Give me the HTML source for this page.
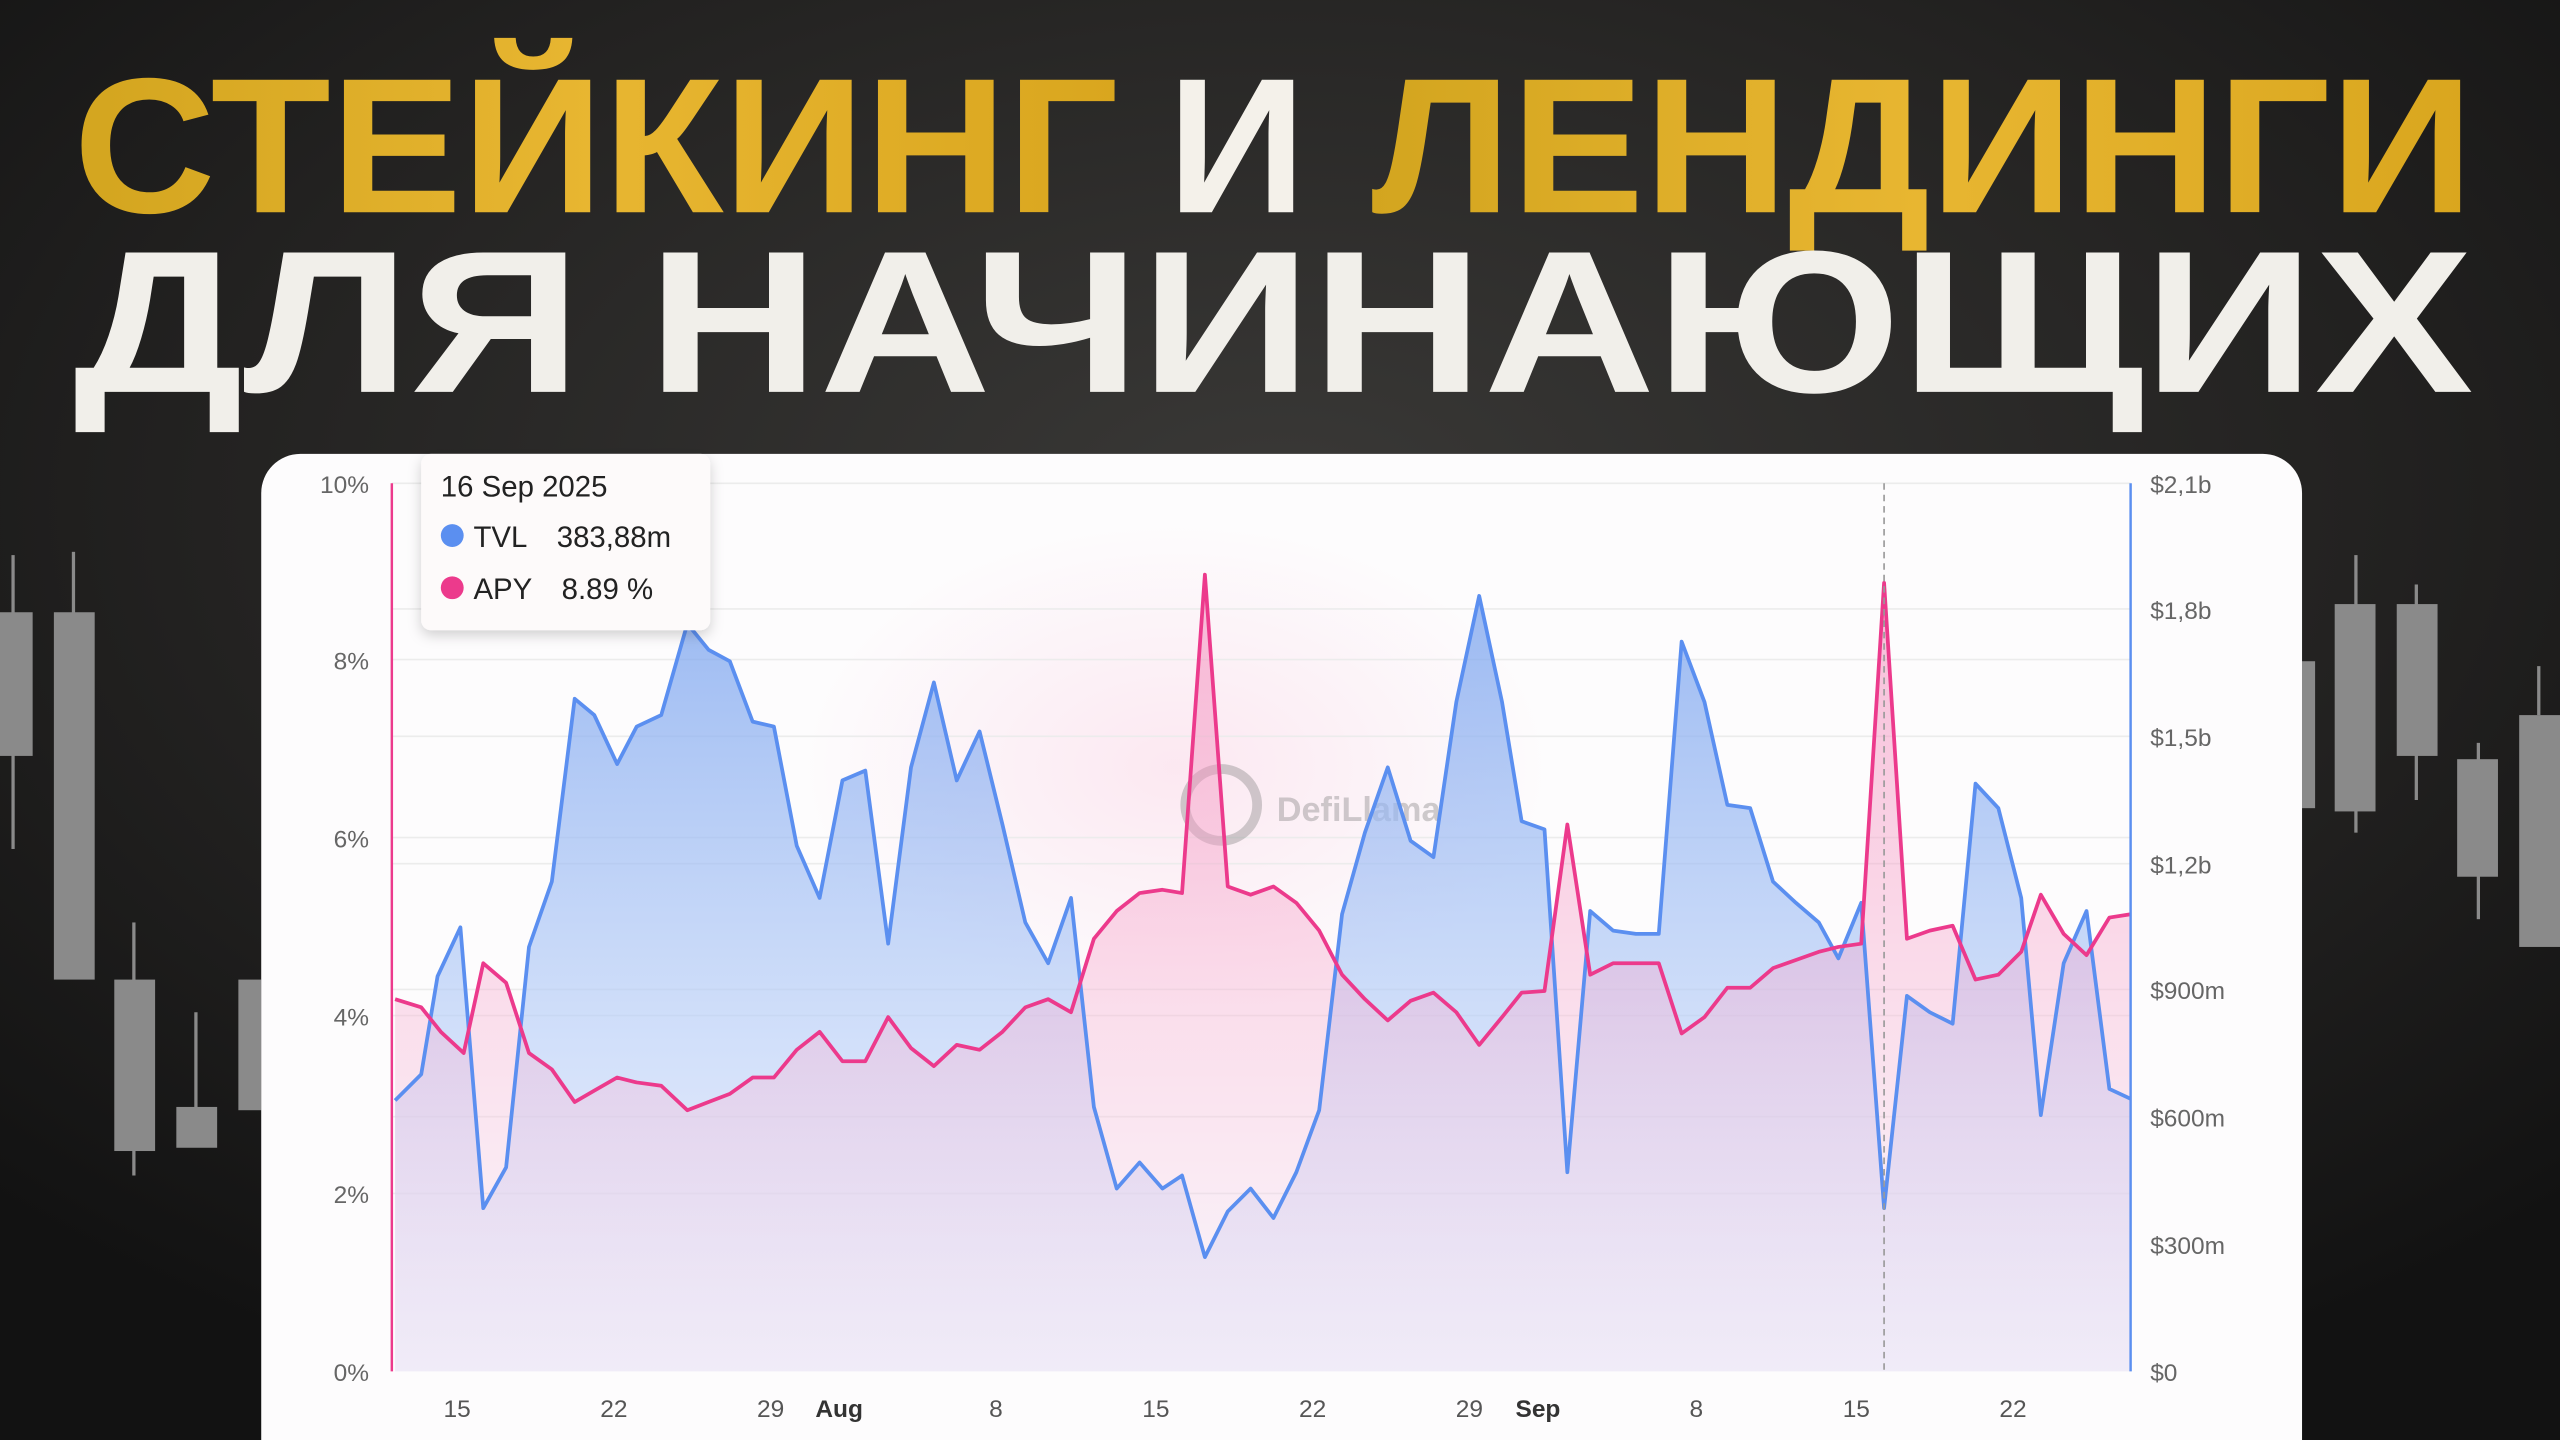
<!DOCTYPE html>
<html><head><meta charset="utf-8"><style>
html,body{margin:0;padding:0;background:#1a1a1a;}
svg{display:block;}
</style></head><body>
<svg width="2560" height="1440" viewBox="0 0 1568 882" xmlns="http://www.w3.org/2000/svg">
<defs>
<radialGradient id="bg" cx="0.5" cy="0.35" r="0.7">
<stop offset="0" stop-color="#3a3937"/><stop offset="0.6" stop-color="#232221"/><stop offset="1" stop-color="#121212"/>
</radialGradient>
<linearGradient id="gold" x1="0" y1="0" x2="1" y2="0">
<stop offset="0" stop-color="#d3a51f"/><stop offset="0.5" stop-color="#e8b631"/><stop offset="1" stop-color="#d9a61e"/>
</linearGradient>
<linearGradient id="blueF" x1="0" y1="0" x2="0" y2="1">
<stop offset="0" stop-color="#7aa3ee" stop-opacity="0.75"/><stop offset="0.6" stop-color="#b8cff8" stop-opacity="0.6"/><stop offset="1" stop-color="#e6e2f6" stop-opacity="0.5"/>
</linearGradient>
<linearGradient id="pinkF" x1="0" y1="0" x2="0" y2="1">
<stop offset="0" stop-color="#f27bb2" stop-opacity="0.5"/><stop offset="0.6" stop-color="#f7b8d6" stop-opacity="0.4"/><stop offset="1" stop-color="#eee4f4" stop-opacity="0.3"/>
</linearGradient>
<radialGradient id="glow" cx="0.5" cy="0.5" r="0.5">
<stop offset="0" stop-color="#fbe3ee" stop-opacity="0.8"/><stop offset="1" stop-color="#fbe3ee" stop-opacity="0"/>
</radialGradient>
<filter id="sh" x="-20%" y="-20%" width="140%" height="150%"><feDropShadow dx="0" dy="3" stdDeviation="4" flood-opacity="0.18"/></filter>
</defs>
<rect width="1568" height="882" fill="url(#bg)"/>
<g fill="#8a8a8a">
<rect x="7" y="340" width="2" height="180"/><rect x="0" y="375" width="20" height="88"/>
<rect x="44" y="338" width="2" height="40"/><rect x="33" y="375" width="25" height="225"/>
<rect x="81" y="565" width="2" height="155"/><rect x="70" y="600" width="25" height="105"/>
<rect x="119" y="620" width="2" height="60"/><rect x="108" y="678" width="25" height="25"/>
<rect x="146" y="600" width="14" height="80"/>
<rect x="1410" y="405" width="8" height="90"/>
<rect x="1442" y="340" width="2" height="170"/><rect x="1430" y="370" width="25" height="127"/>
<rect x="1479" y="358" width="2" height="132"/><rect x="1468" y="370" width="25" height="93"/>
<rect x="1517" y="455" width="2" height="108"/><rect x="1505" y="465" width="25" height="72"/>
<rect x="1554" y="408" width="2" height="30"/><rect x="1543" y="438" width="25" height="142"/>
</g>
<g font-family="Liberation Sans, DejaVu Sans, sans-serif" font-weight="bold">
<text x="45" y="130" font-size="118" textLength="640" lengthAdjust="spacingAndGlyphs" fill="url(#gold)">СТЕЙКИНГ</text>
<text x="715" y="130" font-size="118" textLength="85" lengthAdjust="spacingAndGlyphs" fill="#f4f1ea">И</text>
<text x="840" y="130" font-size="118" textLength="675" lengthAdjust="spacingAndGlyphs" fill="url(#gold)">ЛЕНДИНГИ</text>
<text x="45" y="240" font-size="124" textLength="1470" lengthAdjust="spacingAndGlyphs" fill="#f1efea">ДЛЯ НАЧИНАЮЩИХ</text>
</g>
<rect x="160" y="278" width="1250" height="640" rx="24" fill="#fdfcfd"/>
<ellipse cx="720" cy="470" rx="230" ry="150" fill="url(#glow)"/>
<g stroke="#ececec" stroke-width="1">
<line x1="240" y1="296" x2="1305" y2="296"/><line x1="240" y1="404" x2="1305" y2="404"/>
<line x1="240" y1="513" x2="1305" y2="513"/><line x1="240" y1="622" x2="1305" y2="622"/>
<line x1="240" y1="731" x2="1305" y2="731"/>
<line x1="240" y1="373" x2="1305" y2="373"/><line x1="240" y1="451" x2="1305" y2="451"/>
<line x1="240" y1="529" x2="1305" y2="529"/><line x1="240" y1="606" x2="1305" y2="606"/>
<line x1="240" y1="684" x2="1305" y2="684"/>
</g>
<g opacity="0.35" fill="#777">
<circle cx="748" cy="493" r="22" fill="none" stroke="#777" stroke-width="6"/>
<text x="782" y="503" font-family="Liberation Sans, sans-serif" font-weight="bold" font-size="21">DefiLlama</text>
</g>
<polygon fill="url(#blueF)" points="242,840 242,674 258,658 268,598 282,568 296,740 310,715 324,580 338,540 352,428 364,438 378,468 390,445 405,438 421,382 434,398 447,405 461,442 474,445 488,518 502,550 516,478 530,472 544,578 558,470 572,418 586,478 600,448 614,505 628,565 642,590 656,550 670,678 684,728 698,712 712,728 724,720 738,770 752,742 766,728 780,746 794,718 808,680 822,560 836,510 850,470 864,515 878,525 892,430 906,365 920,430 932,503 946,508 960,718 974,558 988,570 1002,572 1016,572 1030,393 1044,430 1058,493 1072,495 1086,540 1100,553 1114,565 1126,587 1140,553 1154,740 1168,610 1182,620 1196,627 1210,480 1224,495 1238,550 1250,683 1264,590 1278,558 1292,667 1305,673 1305,840"/>
<polygon fill="url(#pinkF)" points="242,840 242,612 258,617 270,632 284,645 296,590 310,602 324,645 338,655 352,675 364,668 378,660 390,663 405,665 421,680 434,675 447,670 461,660 474,660 488,643 502,632 516,650 530,650 544,623 558,642 572,653 586,640 600,643 614,632 628,617 642,612 656,620 670,575 684,558 698,547 712,545 724,547 738,352 752,543 766,548 780,543 794,553 808,570 822,597 836,612 850,625 864,613 878,608 892,620 906,640 920,623 932,608 946,607 960,505 974,597 988,590 1002,590 1016,590 1030,633 1044,623 1058,605 1072,605 1086,593 1100,588 1114,583 1126,580 1140,578 1154,357 1168,575 1182,570 1196,567 1210,600 1224,597 1238,583 1250,548 1264,572 1278,585 1292,562 1305,560 1305,840"/>
<polyline fill="none" stroke="#5b8ff0" stroke-width="2.3" stroke-linejoin="round" points="242,674 258,658 268,598 282,568 296,740 310,715 324,580 338,540 352,428 364,438 378,468 390,445 405,438 421,382 434,398 447,405 461,442 474,445 488,518 502,550 516,478 530,472 544,578 558,470 572,418 586,478 600,448 614,505 628,565 642,590 656,550 670,678 684,728 698,712 712,728 724,720 738,770 752,742 766,728 780,746 794,718 808,680 822,560 836,510 850,470 864,515 878,525 892,430 906,365 920,430 932,503 946,508 960,718 974,558 988,570 1002,572 1016,572 1030,393 1044,430 1058,493 1072,495 1086,540 1100,553 1114,565 1126,587 1140,553 1154,740 1168,610 1182,620 1196,627 1210,480 1224,495 1238,550 1250,683 1264,590 1278,558 1292,667 1305,673"/>
<polyline fill="none" stroke="#ec3a8c" stroke-width="2.3" stroke-linejoin="round" points="242,612 258,617 270,632 284,645 296,590 310,602 324,645 338,655 352,675 364,668 378,660 390,663 405,665 421,680 434,675 447,670 461,660 474,660 488,643 502,632 516,650 530,650 544,623 558,642 572,653 586,640 600,643 614,632 628,617 642,612 656,620 670,575 684,558 698,547 712,545 724,547 738,352 752,543 766,548 780,543 794,553 808,570 822,597 836,612 850,625 864,613 878,608 892,620 906,640 920,623 932,608 946,607 960,505 974,597 988,590 1002,590 1016,590 1030,633 1044,623 1058,605 1072,605 1086,593 1100,588 1114,583 1126,580 1140,578 1154,357 1168,575 1182,570 1196,567 1210,600 1224,597 1238,583 1250,548 1264,572 1278,585 1292,562 1305,560"/>
<line x1="1154" y1="296" x2="1154" y2="840" stroke="#999" stroke-width="1" stroke-dasharray="4,3"/>
<line x1="240" y1="296" x2="240" y2="840" stroke="#ec3a8c" stroke-width="1.5"/>
<line x1="1305" y1="296" x2="1305" y2="840" stroke="#5b8ff0" stroke-width="1.5"/>
<g font-family="Liberation Sans, sans-serif" font-size="15" fill="#666" text-anchor="end">
<text x="226" y="302">10%</text><text x="226" y="410">8%</text><text x="226" y="519">6%</text>
<text x="226" y="628">4%</text><text x="226" y="737">2%</text><text x="226" y="846">0%</text>
</g>
<g font-family="Liberation Sans, sans-serif" font-size="15" fill="#666">
<text x="1317" y="302">$2,1b</text><text x="1317" y="379">$1,8b</text><text x="1317" y="457">$1,5b</text>
<text x="1317" y="535">$1,2b</text><text x="1317" y="612">$900m</text><text x="1317" y="690">$600m</text>
<text x="1317" y="768">$300m</text><text x="1317" y="846">$0</text>
</g>
<g font-family="Liberation Sans, sans-serif" font-size="15" fill="#555" text-anchor="middle">
<text x="280" y="868">15</text><text x="376" y="868">22</text><text x="472" y="868">29</text>
<text x="514" y="868" font-weight="bold" fill="#333">Aug</text><text x="610" y="868">8</text>
<text x="708" y="868">15</text><text x="804" y="868">22</text><text x="900" y="868">29</text>
<text x="942" y="868" font-weight="bold" fill="#333">Sep</text><text x="1039" y="868">8</text>
<text x="1137" y="868">15</text><text x="1233" y="868">22</text>
</g>
<rect x="258" y="278" width="177" height="108" rx="6" fill="#fdfafa" filter="url(#sh)"/>
<g font-family="Liberation Sans, sans-serif" font-size="18" fill="#222">
<text x="270" y="304">16 Sep 2025</text>
<circle cx="277" cy="328" r="7" fill="#5b8ff0"/>
<text x="290" y="335">TVL</text><text x="341" y="335">383,88m</text>
<circle cx="277" cy="360" r="7" fill="#ec3a8c"/>
<text x="290" y="367">APY</text><text x="344" y="367">8.89 %</text>
</g>
</svg>
</body></html>
